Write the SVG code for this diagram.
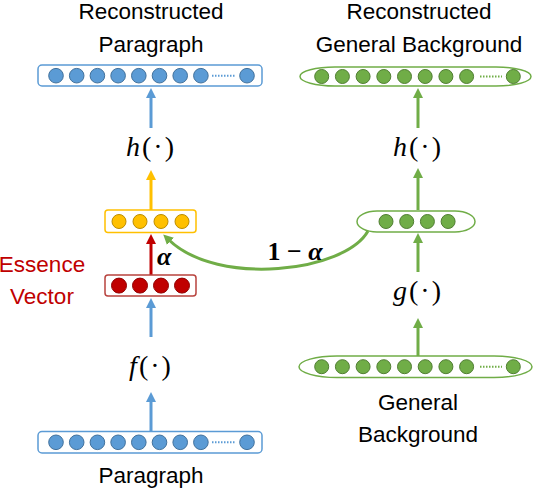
<svg xmlns="http://www.w3.org/2000/svg" width="538" height="490" viewBox="0 0 538 490">
<style>
.lbl{font-family:"Liberation Sans",Arial,sans-serif;font-size:22.5px;fill:#000;text-anchor:middle}
.red{fill:#C00000}
.math{font-family:"Liberation Serif","DejaVu Serif",serif;font-size:28px;text-anchor:middle;letter-spacing:2px}
.math .v{font-style:italic}
.greek{font-family:"Liberation Serif","DejaVu Serif",serif;font-size:26px;font-weight:bold}
.bbar{fill:#fff;stroke:#5B9BD5;stroke-width:1.5}
.bc{fill:#5B9BD5;stroke:#41719C;stroke-width:1}
.gbar{fill:#fff;stroke:#70AD47;stroke-width:1.5}
.gc{fill:#70AD47;stroke:#507E32;stroke-width:1}
.ybar{fill:#fff;stroke:#FFC000;stroke-width:1.5}
.yc{fill:#FFC000;stroke:#BC8C00;stroke-width:1}
.rbar{fill:#fff;stroke:#B8433E;stroke-width:1.5}
.rc{fill:#C00000;stroke:#900000;stroke-width:1}
.dots{fill:none;stroke-width:2;stroke-dasharray:1.5 1.5}
.arr{fill:none;stroke-width:3}
</style>
<defs>
<marker id="mb" viewBox="0 0 10 10" markerWidth="10" markerHeight="10" markerUnits="userSpaceOnUse" refX="2" refY="5" orient="auto"><path d="M0,0 L10,5 L0,10 z" fill="#5B9BD5"/></marker>
<marker id="mg" viewBox="0 0 10 10" markerWidth="10" markerHeight="10" markerUnits="userSpaceOnUse" refX="2" refY="5" orient="auto"><path d="M0,0 L10,5 L0,10 z" fill="#70AD47"/></marker>
<marker id="my" viewBox="0 0 10 10" markerWidth="10" markerHeight="10" markerUnits="userSpaceOnUse" refX="2" refY="5" orient="auto"><path d="M0,0 L10,5 L0,10 z" fill="#FFC000"/></marker>
<marker id="mr" viewBox="0 0 10 10" markerWidth="10" markerHeight="10" markerUnits="userSpaceOnUse" refX="2" refY="5" orient="auto"><path d="M0,0 L10,5 L0,10 z" fill="#C00000"/></marker>
</defs>

<g id="connectors">
<line class="arr" x1="151" y1="431" x2="151" y2="400" stroke="#5B9BD5" marker-end="url(#mb)"/>
<line class="arr" x1="151" y1="337" x2="151" y2="306" stroke="#5B9BD5" marker-end="url(#mb)"/>
<line class="arr" x1="151" y1="275" x2="151" y2="242" stroke="#C00000" marker-end="url(#mr)"/>
<line class="arr" x1="151" y1="210" x2="151" y2="178" stroke="#FFC000" marker-end="url(#my)"/>
<line class="arr" x1="151" y1="128" x2="151" y2="96" stroke="#5B9BD5" marker-end="url(#mb)"/>
<line class="arr" x1="418" y1="356" x2="418" y2="326" stroke="#70AD47" marker-end="url(#mg)"/>
<line class="arr" x1="418" y1="272" x2="418" y2="241" stroke="#70AD47" marker-end="url(#mg)"/>
<line class="arr" x1="418" y1="210" x2="418" y2="176" stroke="#70AD47" marker-end="url(#mg)"/>
<line class="arr" x1="418" y1="128" x2="418" y2="96" stroke="#70AD47" marker-end="url(#mg)"/>
<path class="arr" d="M368,231 C345,272 218,287 169,240" stroke="#70AD47" marker-end="url(#mg)"/>
<text class="greek" x="157" y="265" font-style="italic">α</text>
<text class="greek" x="295" y="260" text-anchor="middle">1 − <tspan font-style="italic">α</tspan></text>
</g>

<g id="recon-paragraph">
<text class="lbl" x="151" y="19">Reconstructed</text>
<text class="lbl" x="151" y="52">Paragraph</text>
<rect class="bbar" x="38" y="65" width="224" height="21" rx="4"/>
<circle class="bc" cx="56" cy="75.7" r="7.3"/>
<circle class="bc" cx="76.7" cy="75.7" r="7.3"/>
<circle class="bc" cx="97.4" cy="75.7" r="7.3"/>
<circle class="bc" cx="118.1" cy="75.7" r="7.3"/>
<circle class="bc" cx="138.8" cy="75.7" r="7.3"/>
<circle class="bc" cx="159.5" cy="75.7" r="7.3"/>
<circle class="bc" cx="180.2" cy="75.7" r="7.3"/>
<circle class="bc" cx="200.9" cy="75.7" r="7.3"/>
<line class="dots" x1="212" y1="75.7" x2="235" y2="75.7" stroke="#5B9BD5"/>
<circle class="bc" cx="247" cy="75.7" r="7.3"/>
</g>

<g id="h-left"><text class="math" x="151" y="156"><tspan class="v">h</tspan>(·)</text></g>

<g id="mixed-vector">
<rect class="ybar" x="105" y="210" width="91" height="22.5" rx="3"/>
<circle class="yc" cx="119" cy="221.5" r="7"/>
<circle class="yc" cx="140" cy="221.5" r="7"/>
<circle class="yc" cx="161" cy="221.5" r="7"/>
<circle class="yc" cx="182" cy="221.5" r="7"/>
</g>

<g id="essence-vector">
<text class="lbl red" x="42" y="272">Essence</text>
<text class="lbl red" x="42" y="304">Vector</text>
<rect class="rbar" x="105" y="275" width="91" height="21" rx="3"/>
<circle class="rc" cx="119" cy="285.6" r="7.5"/>
<circle class="rc" cx="140" cy="285.6" r="7.5"/>
<circle class="rc" cx="161" cy="285.6" r="7.5"/>
<circle class="rc" cx="182" cy="285.6" r="7.5"/>
</g>

<g id="f-left"><text class="math" x="151" y="375"><tspan class="v">f</tspan>(·)</text></g>

<g id="paragraph">
<rect class="bbar" x="38" y="431.5" width="224" height="21.5" rx="4"/>
<circle class="bc" cx="56" cy="442.3" r="7.3"/>
<circle class="bc" cx="76.7" cy="442.3" r="7.3"/>
<circle class="bc" cx="97.4" cy="442.3" r="7.3"/>
<circle class="bc" cx="118.1" cy="442.3" r="7.3"/>
<circle class="bc" cx="138.8" cy="442.3" r="7.3"/>
<circle class="bc" cx="159.5" cy="442.3" r="7.3"/>
<circle class="bc" cx="180.2" cy="442.3" r="7.3"/>
<circle class="bc" cx="200.9" cy="442.3" r="7.3"/>
<line class="dots" x1="212" y1="442.3" x2="235" y2="442.3" stroke="#5B9BD5"/>
<circle class="bc" cx="247" cy="442.3" r="7.3"/>
<text class="lbl" x="151" y="483">Paragraph</text>
</g>

<g id="recon-background">
<text class="lbl" x="419" y="19">Reconstructed</text>
<text class="lbl" x="419" y="52">General Background</text>
<rect class="gbar" x="300" y="67" width="231" height="19" rx="35" ry="9.5"/>
<circle class="gc" cx="321.7" cy="76.5" r="7"/>
<circle class="gc" cx="342.4" cy="76.5" r="7"/>
<circle class="gc" cx="363.1" cy="76.5" r="7"/>
<circle class="gc" cx="383.8" cy="76.5" r="7"/>
<circle class="gc" cx="404.5" cy="76.5" r="7"/>
<circle class="gc" cx="425.2" cy="76.5" r="7"/>
<circle class="gc" cx="445.9" cy="76.5" r="7"/>
<circle class="gc" cx="466.6" cy="76.5" r="7"/>
<line class="dots" x1="480" y1="76.5" x2="502" y2="76.5" stroke="#70AD47"/>
<circle class="gc" cx="513.3" cy="76.5" r="7"/>
</g>

<g id="h-right"><text class="math" x="418" y="156"><tspan class="v">h</tspan>(·)</text></g>

<g id="background-vector">
<rect class="gbar" x="357" y="211" width="118" height="21" rx="20" ry="10.5"/>
<circle class="gc" cx="386" cy="221.5" r="7"/>
<circle class="gc" cx="406.7" cy="221.5" r="7"/>
<circle class="gc" cx="427.4" cy="221.5" r="7"/>
<circle class="gc" cx="448.1" cy="221.5" r="7"/>
</g>

<g id="g-right"><text class="math" x="418" y="300"><tspan class="v">g</tspan>(·)</text></g>

<g id="general-background">
<rect class="gbar" x="299" y="356" width="233" height="21.5" rx="38" ry="10.75"/>
<circle class="gc" cx="321.7" cy="366.7" r="7"/>
<circle class="gc" cx="342.4" cy="366.7" r="7"/>
<circle class="gc" cx="363.1" cy="366.7" r="7"/>
<circle class="gc" cx="383.8" cy="366.7" r="7"/>
<circle class="gc" cx="404.5" cy="366.7" r="7"/>
<circle class="gc" cx="425.2" cy="366.7" r="7"/>
<circle class="gc" cx="445.9" cy="366.7" r="7"/>
<circle class="gc" cx="466.6" cy="366.7" r="7"/>
<line class="dots" x1="480" y1="366.7" x2="502" y2="366.7" stroke="#70AD47"/>
<circle class="gc" cx="513.3" cy="366.7" r="7"/>
<text class="lbl" x="418" y="410">General</text>
<text class="lbl" x="418" y="442">Background</text>
</g>
</svg>
